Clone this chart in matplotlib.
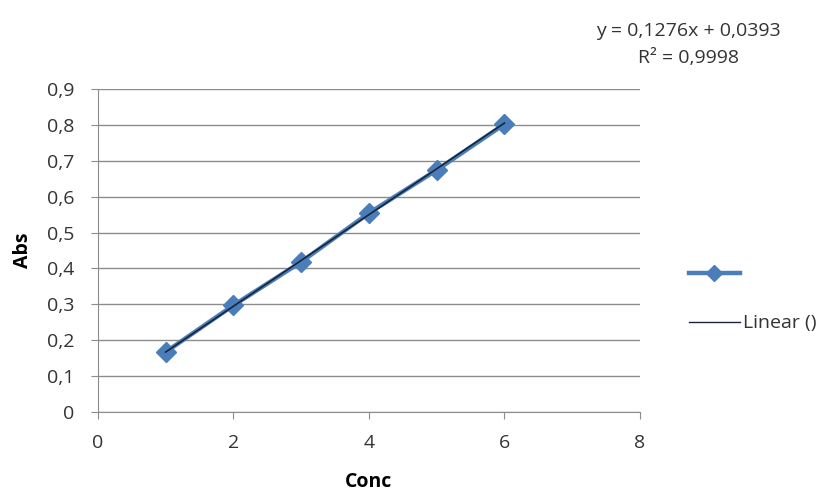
import numpy as np
import matplotlib.pyplot as plt
from matplotlib.lines import Line2D

plt.rcParams['font.family'] = ['Open Sans', 'DejaVu Sans']

conc = [1, 2, 3, 4, 5, 6]
absorb = [0.167, 0.297, 0.418, 0.554, 0.674, 0.802]
slope = 0.1276
intercept = 0.0393

fig = plt.figure(figsize=(8.29, 4.94), dpi=100)
ax = fig.add_axes([0.118, 0.166, 0.654, 0.654])

ax.plot(conc, absorb, color='#4a7ebb', linewidth=3.2, marker='D', markersize=10,
        markeredgecolor='#4a7ebb', zorder=3)
fit_x = np.array([conc[0], conc[-1]])
ax.plot(fit_x, slope * fit_x + intercept, color='#1a2438', linewidth=1.2, zorder=4)

ax.set_xlim(0, 8)
ax.set_ylim(0, 0.9)
ax.set_xticks(range(0, 9, 2))
ax.set_yticks(np.arange(0, 0.91, 0.1))
ax.set_xticklabels([str(v) for v in range(0, 9, 2)])
ax.set_yticklabels(['0'] + ['0,%d' % i for i in range(1, 10)])
ax.yaxis.grid(True, color='#8c8c8c', linewidth=1)
ax.set_axisbelow(True)
for s in ['top', 'right']:
    ax.spines[s].set_visible(False)
ax.spines['left'].set_color('#8c8c8c')
ax.spines['bottom'].set_color('#8c8c8c')
ax.tick_params(colors='#8c8c8c', labelcolor='#333333', labelsize=14, length=5, direction='out')
ax.tick_params(axis='x', pad=11)
ax.tick_params(axis='y', pad=12)
ax.set_xlabel('Conc', fontsize=14, fontweight='bold', labelpad=14)
ax.set_ylabel('Abs', fontsize=14, fontweight='bold', labelpad=10)

fig.text(0.830, 0.938, 'y = 0,1276x + 0,0393', ha='center', va='center', fontsize=14, color='#333333')
fig.text(0.830, 0.882, 'R² = 0,9998', ha='center', va='center', fontsize=14, color='#333333')

handles = [Line2D([], [], color='#4a7ebb', linewidth=3.2, marker='D', markersize=8),
           Line2D([], [], color='#1a2438', linewidth=1.0)]
fig.legend(handles, ['', 'Linear ()'], loc='center left', bbox_to_anchor=(0.81, 0.395),
           frameon=False, fontsize=14, handlelength=2.6, labelspacing=1.6, handletextpad=0.2,
           labelcolor='#333333')

fig.savefig('out.png', dpi=100)
